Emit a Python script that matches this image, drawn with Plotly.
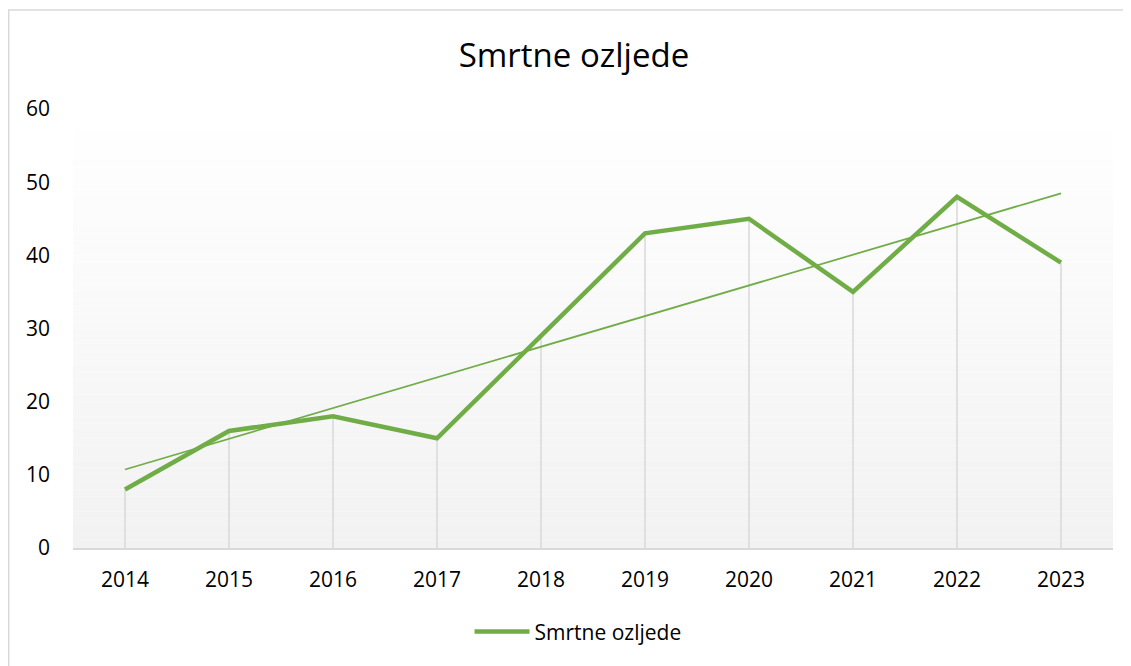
import numpy as np
import plotly.graph_objects as go

years = ["2014", "2015", "2016", "2017", "2018", "2019", "2020", "2021", "2022", "2023"]
deaths = [8, 16, 18, 15, 29, 43, 45, 35, 48, 39]
y_ticks = [0, 10, 20, 30, 40, 50, 60]

title_text = "Smrtne ozljede"
series_name = "Smrtne ozljede"
green = "#70ad47"
grey = "#d9d9d9"
font_family = "Open Sans, Noto Sans, sans-serif"

# linear trendline (least squares, as Excel computes it)
idx = np.arange(len(years))
slope, intercept = np.polyfit(idx, deaths, 1)
trend = list(intercept + slope * idx)

# drop lines
dx, dy = [], []
for yr, v in zip(years, deaths):
    dx += [yr, yr, None]
    dy += [0, v, None]

fig = go.Figure()
fig.add_trace(go.Scatter(x=dx, y=dy, mode="lines", line=dict(color=grey, width=1.5),
                         showlegend=False, hoverinfo="skip"))
fig.add_trace(go.Scatter(x=years, y=trend, mode="lines", line=dict(color=green, width=1.75),
                         showlegend=False, name="Linear trend"))
fig.add_trace(go.Scatter(x=years, y=deaths, mode="lines", name=series_name,
                         line=dict(color=green, width=4.5)))

# gradient plot background (white -> light grey)
shapes = []
n = 60
for i in range(n):
    t = i / (n - 1)
    c = int(round(255 - (255 - 242) * t))
    shapes.append(dict(type="rect", xref="x domain", yref="y domain",
                       x0=0, x1=1, y0=1 - (i + 1) / n, y1=1 - i / n,
                       fillcolor=f"rgb({c},{c},{c})", line=dict(width=0), layer="below"))
# chart-area border
shapes.append(dict(type="rect", xref="paper", yref="paper", x0=-0.0618, x1=1.2,
                   y0=-0.6, y1=1.2255, line=dict(color=grey, width=1.5),
                   fillcolor="rgba(0,0,0,0)", layer="below"))

W, H = 1123, 658
fig.update_layout(
    width=W, height=H,
    margin=dict(l=65, r=18, t=101, b=118),
    paper_bgcolor="white", plot_bgcolor="rgba(0,0,0,0)",
    shapes=shapes,
    font=dict(family=font_family, color="#000000", size=21),
    title=dict(text=title_text, x=0.4817, xanchor="center", xref="paper",
               y=1 - 47 / H, yanchor="middle", yref="container",
               font=dict(size=33, family=font_family, color="#000000")),
    xaxis=dict(type="category", range=[-0.5, 9.5], showgrid=False, zeroline=False,
               showline=True, linecolor=grey, linewidth=1.5, ticks="",
               ticklabelstandoff=12, tickfont=dict(size=21)),
    yaxis=dict(range=[0, 60], tickvals=y_ticks, showgrid=False, zeroline=False,
               showline=False, ticks="", ticklabelstandoff=22, tickfont=dict(size=21)),
    legend=dict(orientation="h", x=0.4856, xanchor="center", y=-0.191, yanchor="middle",
                font=dict(size=21), itemwidth=55, bgcolor="rgba(0,0,0,0)"),
    showlegend=True,
)

fig.write_html("out.html")
